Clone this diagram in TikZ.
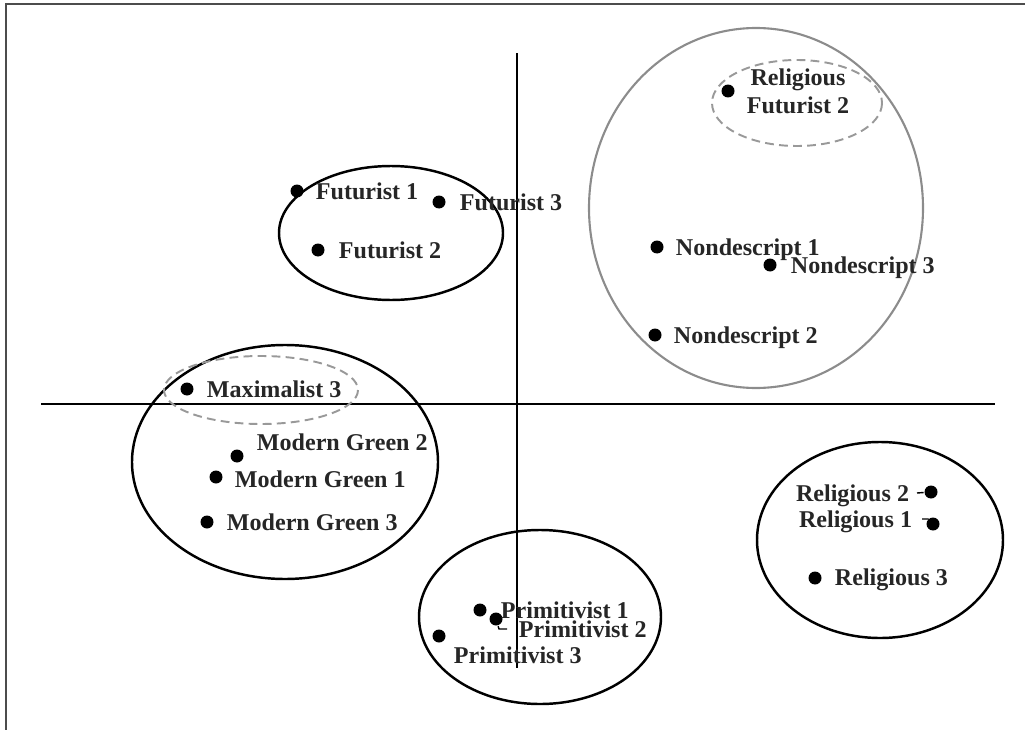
\documentclass[tikz,border=0pt]{standalone}
\usepackage{fontspec}
\setmainfont{Liberation Serif}
\usepackage{tikz}

\begin{document}
\begin{tikzpicture}[x=0.02cm, y=-0.02cm, line width=1.1pt,
    dot/.style={circle, fill=black, inner sep=0pt, minimum size=0.26cm},
    lbl/.style={font=\fontsize{13.7}{16}\selectfont\bfseries, inner sep=0pt, text=black!85},
    grp/.style={line width=1.4pt},
    sub/.style={draw=gray!80, dashed, dash pattern=on 5pt off 3pt, line width=1.1pt}]
    \useasboundingbox (0,0) rectangle (1025,730);

    % Rahmen oben und links
    \draw[black!70, line width=1.3pt] (1025,4) -- (6,4) -- (6,730);

    % Achsen
    \coordinate (xl) at (41,404);
    \coordinate (xr) at (995,404);
    \coordinate (yt) at (517,53);
    \coordinate (yb) at (517,668);
    \draw (xl) -- (xr);
    \draw (yt) -- (yb);

    % Gruppen
    \draw[grp] (391,233) ellipse [x radius=112, y radius=67];
    \draw[grp] (285,462) ellipse [x radius=153, y radius=117];
    \draw[grp] (540,617) ellipse [x radius=121, y radius=87];
    \draw[grp] (880,540) ellipse [x radius=123, y radius=98];
    \draw[gray!90, line width=1.2pt] (756,208) ellipse [x radius=167, y radius=180];
    \draw[sub] (797,103) ellipse [x radius=85, y radius=43];
    \draw[sub] (261,390) ellipse [x radius=97, y radius=34];

    % Futurist
    \node[dot] (fut1) at (297,191) {};
    \node[dot] (fut2) at (318,250) {};
    \node[dot] (fut3) at (439,202) {};
    \node[lbl, anchor=base west] (fut1t) at (315,199) {Futurist 1};
    \node[lbl, anchor=base west] (fut2t) at (338,258) {Futurist 2};
    \node[lbl, anchor=base west] (fut3t) at (459,210) {Futurist 3};

    % Nondescript
    \node[dot] (non1) at (657,247) {};
    \node[dot] (non2) at (655,335) {};
    \node[dot] (non3) at (770,265) {};
    \node[lbl, anchor=base west] (non1t) at (675,255) {Nondescript 1};
    \node[lbl, anchor=base west] (non2t) at (673,343) {Nondescript 2};
    \node[lbl, anchor=base west] (non3t) at (790,273) {Nondescript 3};

    % Religious Futurist
    \node[dot] (relfut2) at (728,91) {};
    \node[lbl, align=center] (relfut2t) at (798,91) {Religious\\Futurist 2};

    % Maximalist / Modern Green
    \node[dot] (max3) at (187,389) {};
    \node[dot] (mod1) at (216,477) {};
    \node[dot] (mod2) at (237,456) {};
    \node[dot] (mod3) at (207,522) {};
    \node[lbl, anchor=base west] (max3t) at (206,397) {Maximalist 3};
    \node[lbl, anchor=base west] (mod1t) at (234,487) {Modern Green 1};
    \node[lbl, anchor=base west] (mod2t) at (256,450) {Modern Green 2};
    \node[lbl, anchor=base west] (mod3t) at (226,530) {Modern Green 3};

    % Primitivist
    \node[dot] (pri1) at (480,610) {};
    \node[dot] (pri2) at (496,619) {};
    \node[dot] (pri3) at (439,636) {};
    \node[lbl, anchor=base west] (pri1t) at (500,618) {Primitivist 1};
    \node[lbl, anchor=base west] (pri2t) at (518,637) {Primitivist 2};
    \node[lbl, anchor=base west] (pri3t) at (453,663) {Primitivist 3};
    \coordinate (pri2k) at (499,629);
    \draw[line width=0.8pt] (pri2) -- (pri2k) -- ++(8,0);

    % Religious
    \node[dot] (rel1) at (933,524) {};
    \node[dot] (rel2) at (931,492) {};
    \node[dot] (rel3) at (815,578) {};
    \node[lbl, anchor=base east] (rel1t) at (913,527) {Religious 1};
    \node[lbl, anchor=base east] (rel2t) at (910,501) {Religious 2};
    \node[lbl, anchor=base west] (rel3t) at (834,585) {Religious 3};
    \draw[line width=0.8pt] (917,493) -- (rel2);
    \coordinate (rel1k) at (928,519);
    \draw[line width=0.8pt] (922,519) -- (rel1k) -- (rel1);
\end{tikzpicture}
\end{document}
